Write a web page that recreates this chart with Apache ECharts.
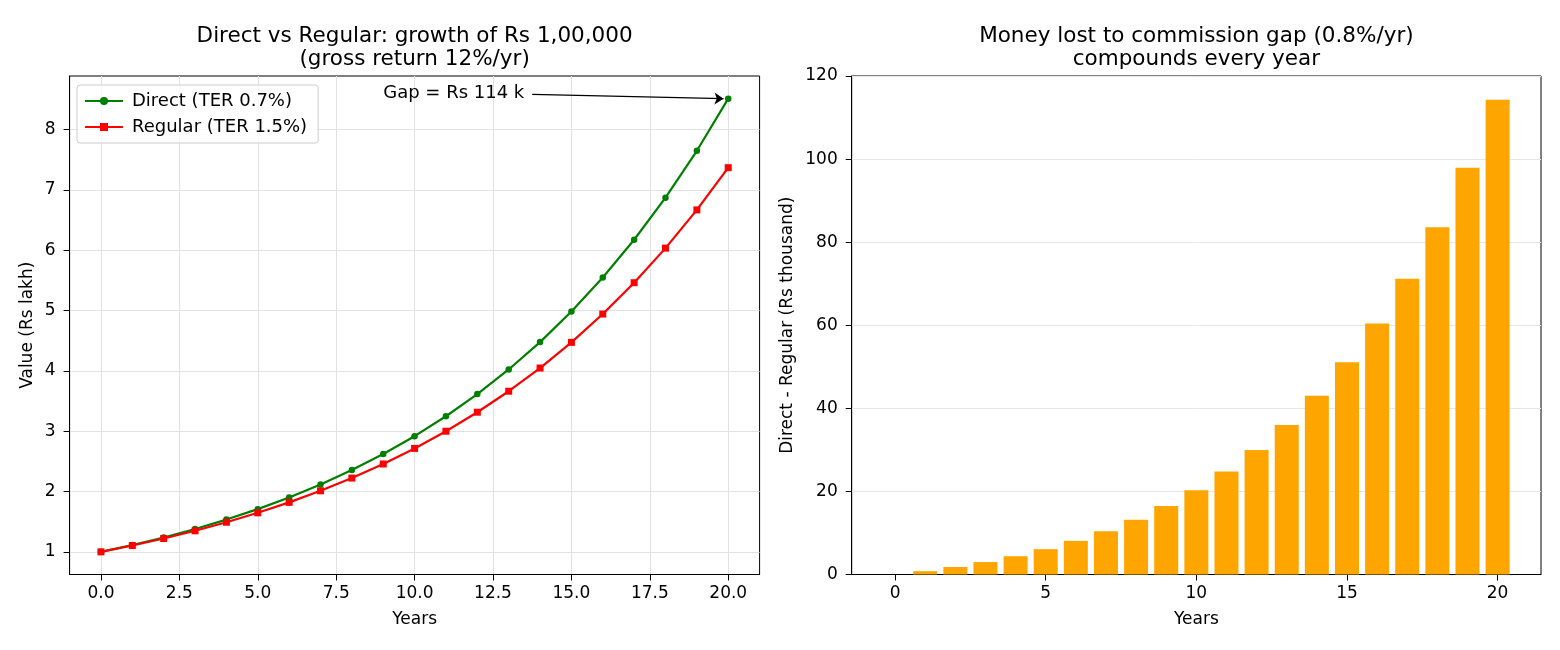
<!DOCTYPE html>
<html><head><meta charset="utf-8">
<script src="https://cdn.jsdelivr.net/npm/echarts@6/dist/echarts.min.js"></script>
<style>html,body{margin:0;padding:0;background:#fff}#c{width:1560px;height:650px}</style>
</head><body><div id="c"></div>
<script>
const years = [0,1,2,3,4,5,6,7,8,9,10,11,12,13,14,15,16,17,18,19,20];
const directValues = [1.000,1.113,1.239,1.379,1.535,1.708,1.901,2.116,2.355,2.621,2.917,3.247,3.614,4.022,4.476,4.982,5.545,6.172,6.869,7.646,8.509];
const regularValues = [1.000,1.105,1.221,1.349,1.491,1.647,1.820,2.012,2.223,2.456,2.714,2.999,3.314,3.662,4.046,4.471,4.941,5.460,6.033,6.666,7.366];
const gapValues = [0,0.8,1.8,3.0,4.4,6.1,8.1,10.4,13.2,16.5,20.3,24.8,30.0,36.0,43.0,51.1,60.4,71.2,83.6,97.9,114.3];
const leftXTicks = [0,2.5,5,7.5,10,12.5,15,17.5,20];
const leftYTicks = [1,2,3,4,5,6,7,8];
const rightXTicks = [0,5,10,15,20];
const seriesNames = ['Direct (TER 0.7%)','Regular (TER 1.5%)'];
const titles = ['Direct vs Regular: growth of Rs 1,00,000\n(gross return 12%/yr)', 'Money lost to commission gap (0.8%/yr)\ncompounds every year'];
const gapLabel = 'Gap = Rs 114 k';
const gapTextAt = [9, 8.6];
const arrowFrom = [13.75, 8.58];
const arrowTo = [19.85, 8.51];

const FONT = 'DejaVu Sans';
const chart = echarts.init(document.getElementById('c'), null, {renderer:'canvas'});
const axisCommon = {
  axisLine: {show: true, onZero: false, lineStyle: {color: '#000', width: 1}},
  axisTick: {show: true, inside: false, length: 6, lineStyle: {color: '#000', width: 1}},
  axisLabel: {color: '#000', fontFamily: FONT, fontSize: 17},
  nameTextStyle: {color: '#000', fontFamily: FONT, fontSize: 17},
};
function ax(extra) {
  const o = JSON.parse(JSON.stringify(axisCommon));
  for (const k in extra) {
    if (typeof extra[k] === 'object' && !Array.isArray(extra[k]) && o[k]) Object.assign(o[k], extra[k]);
    else o[k] = extra[k];
  }
  return o;
}
const option = {
  animation: false,
  backgroundColor: '#fff',
  textStyle: {fontFamily: FONT},
  title: [
    {text: titles[0], left: 414.6, top: 24.5, textAlign: 'center', padding: 0,
     textStyle: {fontFamily: FONT, fontSize: 21.5, fontWeight: 'normal', color: '#000', lineHeight: 23}},
    {text: titles[1], left: 1196.4, top: 24.5, textAlign: 'center', padding: 0,
     textStyle: {fontFamily: FONT, fontSize: 21.5, fontWeight: 'normal', color: '#000', lineHeight: 23}}
  ],
  legend: {
    data: seriesNames, orient: 'vertical', left: 77, top: 85,
    padding: [7, 11, 7, 7], itemGap: 8, itemWidth: 38, itemHeight: 10,
    borderColor: '#cccccc', borderWidth: 1, borderRadius: 3, backgroundColor: 'rgba(255,255,255,0.8)',
    textStyle: {fontFamily: FONT, fontSize: 18, color: '#000', padding: [0,0,0,4]}
  },
  grid: [
    {left: 69.6, top: 76, width: 690, height: 498.5, show: true, borderColor: '#000', borderWidth: 1, backgroundColor: 'transparent', containLabel: false},
    {left: 851.7, top: 76, width: 689.3, height: 498.5, show: true, borderColor: '#000', borderWidth: 1, backgroundColor: 'transparent', containLabel: false}
  ],
  xAxis: [
    ax({type: 'value', gridIndex: 0, min: -1, max: 21, name: 'Years', nameLocation: 'middle', nameGap: 37,
      axisLabel: {customValues: leftXTicks, formatter: v => v.toFixed(1), margin: 11},
      axisTick: {customValues: leftXTicks},
      splitLine: {show: true, lineStyle: {color: '#e2e2e2', width: 1}}}),
    ax({type: 'value', gridIndex: 1, min: -1.44, max: 21.44, name: 'Years', nameLocation: 'middle', nameGap: 37,
      axisLabel: {customValues: rightXTicks, formatter: v => String(v), margin: 11},
      axisTick: {customValues: rightXTicks},
      splitLine: {show: false}})
  ],
  yAxis: [
    ax({type: 'value', gridIndex: 0, min: 0.625, max: 8.885, name: 'Value (Rs lakh)', nameLocation: 'middle', nameGap: 34,
      axisLabel: {customValues: leftYTicks, formatter: v => String(v), margin: 14},
      axisTick: {customValues: leftYTicks},
      splitLine: {show: true, lineStyle: {color: '#e2e2e2', width: 1}}}),
    ax({type: 'value', gridIndex: 1, min: 0, max: 120, interval: 20, name: 'Direct - Regular (Rs thousand)', nameLocation: 'middle', nameGap: 56,
      axisLabel: {margin: 14},
      splitLine: {show: true, lineStyle: {color: '#e6e6e6', width: 1}}})
  ],
  series: [
    {name: seriesNames[0], type: 'line', xAxisIndex: 0, yAxisIndex: 0,
     data: years.map((y, i) => [y, directValues[i]]),
     color: '#008000', symbol: 'circle', symbolSize: 6.5, showAllSymbol: true,
     lineStyle: {width: 2.2, color: '#008000'}, itemStyle: {color: '#008000'},
     markLine: {silent: true, symbol: ['none', 'arrow'], symbolSize: 9,
       lineStyle: {color: '#000', width: 1.2, type: 'solid'}, label: {show: false},
       emphasis: {disabled: true},
       data: [[{coord: arrowFrom}, {coord: arrowTo}]]},
     markPoint: {silent: true, symbol: 'circle', symbolSize: 0,
       data: [{coord: gapTextAt, label: {show: true, position: 'right', distance: 0, formatter: gapLabel,
         color: '#000', fontFamily: FONT, fontSize: 18}}]}
    },
    {name: seriesNames[1], type: 'line', xAxisIndex: 0, yAxisIndex: 0,
     data: years.map((y, i) => [y, regularValues[i]]),
     color: '#ff0000', symbol: 'rect', symbolSize: 7, showAllSymbol: true,
     lineStyle: {width: 2.2, color: '#ff0000'}, itemStyle: {color: '#ff0000'}},
    {name: 'gap', type: 'bar', xAxisIndex: 1, yAxisIndex: 1,
     data: years.map((y, i) => [y, gapValues[i]]),
     barWidth: 24, itemStyle: {color: '#ffa500'}}
  ]
};
chart.setOption(option);
</script></body></html>
